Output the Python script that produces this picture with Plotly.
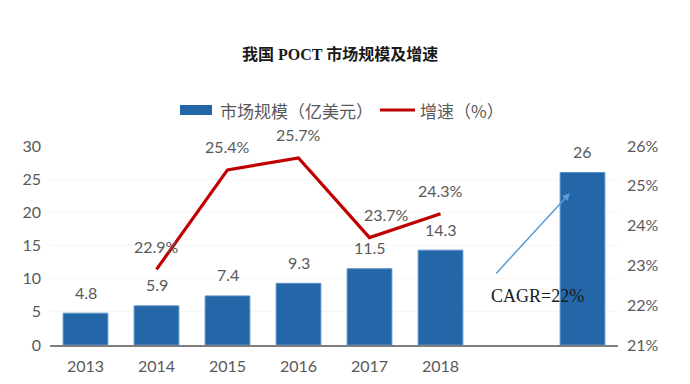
import plotly.graph_objects as go

# ---- data ----
tick_labels = ["2013", "2014", "2015", "2016", "2017", "2018", "", ""]
bar_pos = [0, 1, 2, 3, 4, 5, 7]
market_size = [4.8, 5.9, 7.4, 9.3, 11.5, 14.3, 26]
line_pos = [1, 2, 3, 4, 5]
growth = [22.9, 25.4, 25.7, 23.7, 24.3]
growth_xshift = [0, 0, 0, 17, 0]
bar_name = "市场规模（亿美元）"
line_name = "增速（%）"
title_text = "我国 POCT 市场规模及增速"
cagr_text = "CAGR=22%"

BLUE = "#2367A9"
RED = "#C00000"
GREY = "#595959"
SERIF = "Liberation Serif, Noto Sans CJK SC, serif"
SANS = "Noto Sans CJK SC, Liberation Sans, sans-serif"
NUM = "Lato, Roboto, sans-serif"

fig = go.Figure()
fig.add_trace(go.Bar(
    x=bar_pos, y=market_size, name=bar_name,
    marker=dict(color=BLUE, line=dict(color="#5b8fc6", width=1)),
    width=0.63, yaxis="y", showlegend=False,
))
fig.add_trace(go.Scatter(
    x=line_pos, y=growth, name=line_name, mode="lines",
    line=dict(color=RED, width=3.2), yaxis="y2", showlegend=False,
))

ann = []
for xp, v in zip(bar_pos, market_size):
    ann.append(dict(x=xp, y=v, xref="x", yref="y", text=f"{v:g}", showarrow=False,
                    yshift=21, font=dict(family=NUM, size=16, color=GREY)))
for xp, v, xs in zip(line_pos, growth, growth_xshift):
    ann.append(dict(x=xp, y=v, xref="x", yref="y2", text=f"{v:.1f}%", showarrow=False,
                    yshift=23, xshift=xs, font=dict(family=NUM, size=16, color=GREY)))
# CAGR arrow and text
ann.append(dict(x=0.9155, y=0.764, ax=0.783, ay=0.352, xref="x domain", yref="y domain",
                axref="x domain", ayref="y domain", showarrow=True, arrowhead=2,
                arrowsize=1, arrowwidth=1.5, arrowcolor="#5B9BD5", text=""))
ann.append(dict(x=0.859, y=0.246, xref="paper", yref="paper", xanchor="center", yanchor="middle",
                text=cagr_text, showarrow=False,
                font=dict(family=SERIF, size=18, color="#1a1a1a")))
# title
ann.append(dict(x=0.511, y=(345 - 54) / 199, xref="paper", yref="paper",
                xanchor="center", yanchor="middle", text=f"<b>{title_text}</b>",
                showarrow=False, font=dict(family=SERIF, size=16, color="#1a1a1a")))
# custom legend text
ann.append(dict(x=(218 - 50) / 568, y=(345 - 110) / 199, xref="paper", yref="paper",
                xanchor="left", yanchor="middle", text=bar_name, showarrow=False,
                font=dict(family=SANS, size=17, color=GREY)))
ann.append(dict(x=(418 - 50) / 568, y=(345 - 110) / 199, xref="paper", yref="paper",
                xanchor="left", yanchor="middle", text=line_name, showarrow=False,
                font=dict(family=SANS, size=17, color=GREY)))

shapes = [
    dict(type="rect", xref="paper", yref="paper",
         x0=(180 - 50) / 568, x1=(212 - 50) / 568,
         y0=(345 - 115) / 199, y1=(345 - 105) / 199,
         fillcolor=BLUE, line=dict(width=0)),
    dict(type="line", xref="paper", yref="paper",
         x0=(380 - 50) / 568, x1=(415 - 50) / 568,
         y0=(345 - 110) / 199, y1=(345 - 110) / 199,
         line=dict(color=RED, width=3)),
]

fig.update_layout(
    width=690, height=384,
    margin=dict(l=42, r=80, t=138, b=47),
    plot_bgcolor="white", paper_bgcolor="white",
    showlegend=False,
    annotations=ann,
    shapes=shapes,
    xaxis=dict(range=[-0.5, 7.5], tickmode="array", tickvals=list(range(8)), ticktext=tick_labels,
               showline=True, linecolor="#7f7f7f", linewidth=1.5, ticks="",
               ticklabelstandoff=6,
               tickfont=dict(family=NUM, size=16, color=GREY), showgrid=False, zeroline=False),
    yaxis=dict(range=[0, 30], dtick=5, showline=False, showgrid=True, gridcolor="#f6f6f2",
               zeroline=False, ticklabelstandoff=8,
               tickfont=dict(family=NUM, size=16, color=GREY)),
    yaxis2=dict(range=[21, 26], dtick=1, overlaying="y", side="right", ticksuffix="%",
                showgrid=False, zeroline=False, showline=False, ticklabelstandoff=8,
                tickfont=dict(family=NUM, size=16, color=GREY)),
)
fig.write_html("out.html")
